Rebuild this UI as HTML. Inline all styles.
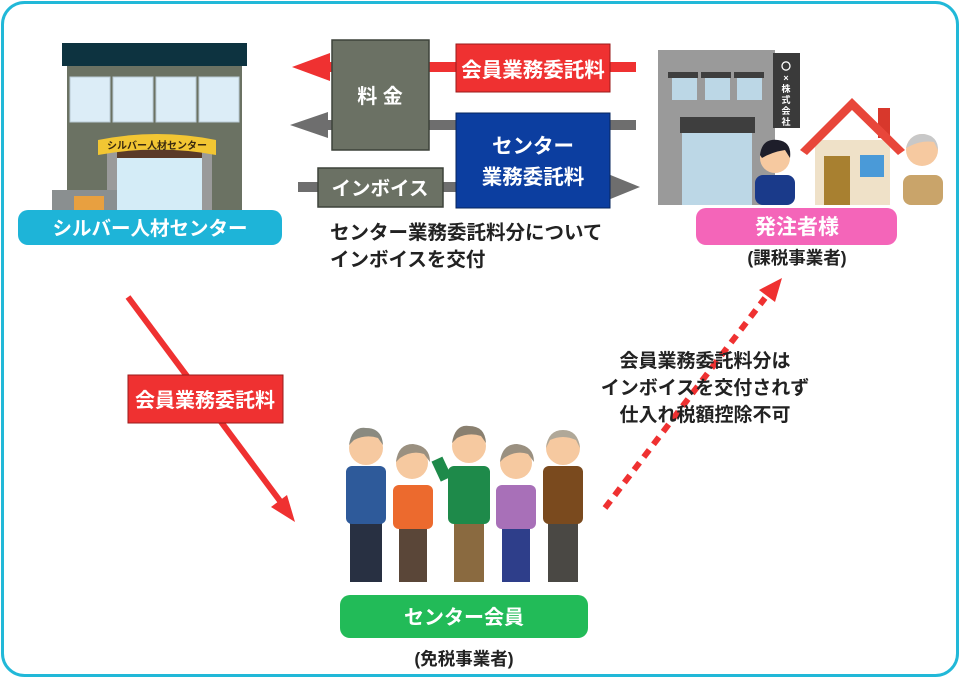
<!DOCTYPE html>
<html><head><meta charset="utf-8"><style>
html,body{margin:0;padding:0;background:#fff}
svg{display:block}
text{font-family:"Liberation Sans","Noto Sans CJK JP",sans-serif;font-weight:bold}
</style></head><body>
<svg width="960" height="678" viewBox="0 0 960 678" xmlns="http://www.w3.org/2000/svg">
<rect x="2.5" y="2.5" width="955" height="673" rx="22" fill="#fff" stroke="#21b8d8" stroke-width="3"/>
<!-- left building -->
<rect x="67" y="66" width="175" height="144" fill="#6b7263"/>
<rect x="62" y="43" width="185" height="23" fill="#0d3340"/>
<g fill="#dcedf7" stroke="#b9c9d3">
<rect x="70" y="77" width="40" height="45"/><rect x="113" y="77" width="40" height="45"/><rect x="156" y="77" width="40" height="45"/><rect x="199" y="77" width="40" height="45"/>
</g>
<rect x="107" y="150" width="105" height="60" fill="#9a9a9a"/>
<rect x="117" y="157" width="85" height="53" fill="#d4ecf7"/>
<rect x="117" y="150" width="85" height="8" fill="#5a3a28"/>
<path d="M98 140 Q157 128 216 140 L216 155 Q157 144 98 155Z" fill="#f2c633"/>
<text x="157" y="149" font-size="10" text-anchor="middle" fill="#3a2a10">シルバー人材センター</text>
<rect x="52" y="190" width="65" height="20" fill="#8a8f90"/>
<rect x="74" y="196" width="30" height="14" fill="#e8a040"/>
<rect x="18" y="210" width="264" height="35" rx="10" fill="#1eb4d8"/>
<text x="150" y="235" font-size="19.5" fill="#fff" text-anchor="middle">シルバー人材センター</text>
<!-- arrows -->
<rect x="325" y="62" width="311" height="10" fill="#ef3131"/>
<polygon points="292,67 330,53 330,81" fill="#ef3131"/>
<rect x="325" y="120" width="311" height="10" fill="#6e6e6e"/>
<polygon points="290,125 328,112 328,138" fill="#6e6e6e"/>
<rect x="298" y="182" width="312" height="10" fill="#6e6e6e"/>
<polygon points="640,187 608,174 608,200" fill="#6e6e6e"/>
<rect x="332" y="40" width="97" height="110" fill="#6b7164" stroke="#3d423a" stroke-width="1.5"/>
<text x="380" y="103" font-size="20" fill="#fff" text-anchor="middle">料 金</text>
<rect x="456" y="44" width="154" height="48" fill="#ef3131" stroke="#9a1a1a" stroke-width="1"/>
<text x="533" y="77" font-size="20.5" fill="#fff" text-anchor="middle">会員業務委託料</text>
<rect x="456" y="113" width="154" height="95" fill="#0c3ea0" stroke="#06245e" stroke-width="1"/>
<text x="533" y="153" font-size="20.5" fill="#fff" text-anchor="middle">センター</text>
<text x="533" y="184" font-size="20.5" fill="#fff" text-anchor="middle">業務委託料</text>
<rect x="318" y="168" width="125" height="39" fill="#6b7164" stroke="#3d423a" stroke-width="1.5"/>
<text x="380" y="195" font-size="19.5" fill="#fff" text-anchor="middle">インボイス</text>
<text x="330" y="239" font-size="19.5" fill="#222">センター業務委託料分について</text>
<text x="330" y="266" font-size="19.5" fill="#222">インボイスを交付</text>
<!-- right building -->
<rect x="658" y="50" width="117" height="155" fill="#9a9a9a"/>
<g fill="#bcd7e6"><rect x="672" y="78" width="25" height="22"/><rect x="705" y="78" width="25" height="22"/><rect x="737" y="78" width="25" height="22"/></g>
<g fill="#3e3e3e"><rect x="668" y="72" width="30" height="6"/><rect x="701" y="72" width="30" height="6"/><rect x="734" y="72" width="30" height="6"/></g>
<rect x="680" y="117" width="75" height="16" fill="#3e3e3e"/>
<rect x="682" y="133" width="70" height="72" fill="#bcd7e6"/>
<rect x="773" y="53" width="27" height="75" fill="#3a3a3a"/>
<text x="786" y="70" font-size="10" fill="#fff" text-anchor="middle">〇</text>
<text x="786" y="81" font-size="9" fill="#fff" text-anchor="middle">×</text>
<text x="786" y="92" font-size="9" fill="#fff" text-anchor="middle">株</text>
<text x="786" y="103" font-size="9" fill="#fff" text-anchor="middle">式</text>
<text x="786" y="114" font-size="9" fill="#fff" text-anchor="middle">会</text>
<text x="786" y="125" font-size="9" fill="#fff" text-anchor="middle">社</text>
<!-- man -->
<rect x="755" y="175" width="40" height="30" rx="8" fill="#1a3a8a"/>
<circle cx="775" cy="158" r="15" fill="#f6c9a0"/>
<path d="M760 155 Q762 138 778 140 Q792 142 790 158 L785 150 Q772 152 762 158Z" fill="#1e1e2a"/>
<!-- house -->
<rect x="815" y="140" width="75" height="65" fill="#efe1c8"/>
<rect x="878" y="108" width="12" height="30" fill="#d8382c"/>
<polygon points="800,150 852,98 905,150 898,155 852,110 807,155" fill="#e8463a"/>
<rect x="824" y="156" width="26" height="49" fill="#a88030"/>
<rect x="860" y="155" width="24" height="22" fill="#4a9ad8"/>
<!-- old man -->
<rect x="903" y="175" width="40" height="30" rx="8" fill="#c9a46a"/>
<circle cx="922" cy="150" r="16" fill="#f6c9a0"/>
<path d="M906 148 Q910 133 924 134 Q938 136 938 150 L934 142 Q922 140 910 146Z" fill="#c8c8c8"/>
<rect x="696" y="208" width="201" height="37" rx="10" fill="#f465b9"/>
<text x="797" y="234" font-size="21" fill="#fff" text-anchor="middle">発注者様</text>
<text x="797" y="264" font-size="17.5" fill="#222" text-anchor="middle">(課税事業者)</text>
<!-- diagonal arrow -->
<line x1="128" y1="297" x2="283" y2="505" stroke="#ef3131" stroke-width="6"/>
<polygon points="295,522 271,507 287,495" fill="#ef3131"/>
<rect x="128" y="375" width="155" height="48" fill="#ef3131" stroke="#9a1a1a" stroke-width="1"/>
<text x="205" y="407" font-size="20" fill="#fff" text-anchor="middle">会員業務委託料</text>
<!-- dotted arrow -->
<line x1="605" y1="508" x2="765" y2="298" stroke="#ef3131" stroke-width="6" stroke-dasharray="9,7"/>
<polygon points="782,278 759,290 775,302" fill="#ef3131"/>
<text x="705" y="367" font-size="19" fill="#222" text-anchor="middle">会員業務委託料分は</text>
<text x="705" y="394" font-size="19" fill="#222" text-anchor="middle">インボイスを交付されず</text>
<text x="705" y="421" font-size="19" fill="#222" text-anchor="middle">仕入れ税額控除不可</text>
<!-- people -->
<g>
<rect x="350" y="520" width="32" height="62" fill="#283042"/><rect x="346" y="466" width="40" height="58" rx="6" fill="#2e5a9a"/><circle cx="366" cy="448" r="17" fill="#f6c9a0"/><path d="M349 445 Q352 426 366 428 Q382 428 383 445 L378 438 Q366 434 354 440Z" fill="#8a8a80"/>
<rect x="399" y="525" width="28" height="57" fill="#5a4638"/><rect x="393" y="485" width="40" height="44" rx="6" fill="#ec6a2e"/><circle cx="412" cy="463" r="16" fill="#f6c9a0"/><path d="M396 462 Q398 444 413 444 Q430 446 430 462 L424 454 Q412 450 400 458Z" fill="#9a9080"/>
<rect x="454" y="520" width="30" height="62" fill="#8a6a40"/><rect x="448" y="466" width="42" height="58" rx="6" fill="#1e8a4a"/><rect x="436" y="458" width="12" height="22" fill="#1e8a4a" transform="rotate(-25 442 470)"/><circle cx="469" cy="446" r="17" fill="#f6c9a0"/><path d="M452 443 Q455 424 469 426 Q485 426 486 443 L481 436 Q469 432 457 438Z" fill="#8a8070"/>
<rect x="502" y="525" width="28" height="57" fill="#2e3e8a"/><rect x="496" y="485" width="40" height="44" rx="6" fill="#a870b8"/><circle cx="516" cy="463" r="16" fill="#f6c9a0"/><path d="M500 462 Q502 444 517 444 Q534 446 534 462 L528 454 Q516 450 504 458Z" fill="#9a9080"/>
<rect x="548" y="520" width="30" height="62" fill="#4a4844"/><rect x="543" y="466" width="40" height="58" rx="6" fill="#7a4a1e"/><circle cx="563" cy="448" r="17" fill="#f6c9a0"/><path d="M546 448 Q548 430 563 430 Q578 430 580 448 L576 440 Q563 434 550 440Z" fill="#b0a898"/>
</g>
<rect x="340" y="595" width="248" height="43" rx="10" fill="#22bb58"/>
<text x="464" y="624" font-size="20" fill="#fff" text-anchor="middle">センター会員</text>
<text x="464" y="665" font-size="17.5" fill="#222" text-anchor="middle">(免税事業者)</text>
</svg>
</body></html>
